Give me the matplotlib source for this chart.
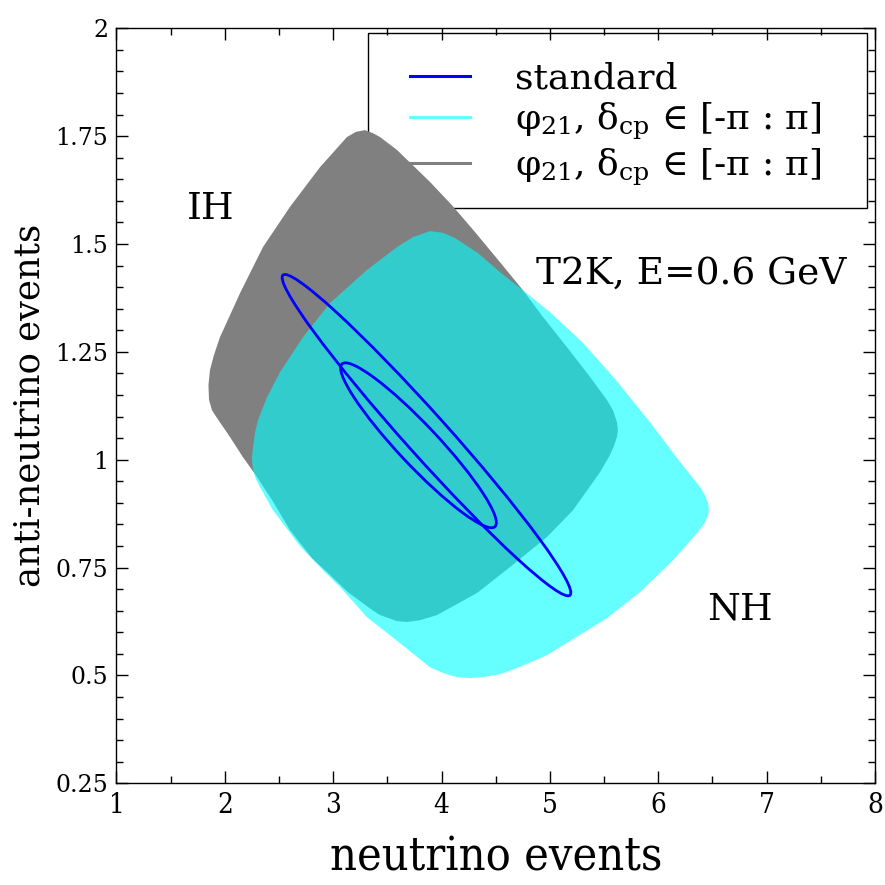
import matplotlib
matplotlib.use("Agg")
import matplotlib.pyplot as plt
import numpy as np
from matplotlib.patches import Ellipse, Rectangle
from matplotlib.lines import Line2D
from matplotlib.transforms import Affine2D
from matplotlib.ticker import MultipleLocator

plt.rcParams['font.family'] = ['DejaVu Serif']
plt.rcParams['mathtext.fontset'] = 'dejavuserif'

##### DATA #####
# IH region (grey), outline
ih_x = [3.293, 3.367, 3.432, 3.589, 3.893, 4.096, 4.308, 4.539, 4.751, 4.936,
        5.157, 5.370, 5.527, 5.582, 5.619, 5.628, 5.619, 5.591, 5.554, 5.462,
        5.213, 4.973, 4.631, 4.327, 3.958, 3.801, 3.681, 3.589, 3.432, 3.358,
        3.136, 2.970, 2.804, 2.601, 2.435, 2.278, 2.167, 2.047, 1.927, 1.881,
        1.854, 1.849, 1.863, 1.900, 1.955, 2.140, 2.352, 2.601, 2.878, 3.127,
        3.210]
ih_y = [1.764, 1.757, 1.748, 1.718, 1.644, 1.590, 1.528, 1.458, 1.393, 1.331,
        1.261, 1.192, 1.138, 1.115, 1.087, 1.069, 1.053, 1.032, 1.011, 0.971,
        0.883, 0.821, 0.751, 0.691, 0.640, 0.628, 0.624, 0.626, 0.640, 0.652,
        0.693, 0.733, 0.772, 0.837, 0.907, 0.967, 1.006, 1.053, 1.097, 1.115,
        1.139, 1.173, 1.208, 1.243, 1.284, 1.386, 1.493, 1.586, 1.678, 1.748,
        1.760]

# NH region (cyan)
nh_x = [3.893, 4.013, 4.124, 4.336, 4.539, 4.770, 5.001, 5.305, 5.619, 5.923,
        6.200, 6.385, 6.431, 6.459, 6.468, 6.459, 6.422, 6.357, 6.136, 5.831,
        5.527, 5.231, 4.973, 4.696, 4.539, 4.382, 4.262, 4.142, 4.013, 3.893,
        3.616, 3.312, 3.063, 2.906, 2.693, 2.444, 2.324, 2.287, 2.260, 2.250,
        2.260, 2.278, 2.306, 2.389, 2.509, 2.721, 2.970, 3.312, 3.589, 3.736]
nh_y = [1.530, 1.526, 1.514, 1.479, 1.435, 1.389, 1.342, 1.271, 1.182, 1.087,
        0.995, 0.937, 0.918, 0.900, 0.886, 0.872, 0.851, 0.830, 0.767, 0.693,
        0.633, 0.587, 0.547, 0.517, 0.503, 0.496, 0.494, 0.496, 0.506, 0.519,
        0.575, 0.635, 0.705, 0.744, 0.800, 0.883, 0.937, 0.955, 0.976, 1.004,
        1.029, 1.062, 1.092, 1.145, 1.203, 1.284, 1.363, 1.440, 1.493, 1.516]

# standard curves: both ends of each ellipse and its minor width (x units)
ell_end_a = [(2.537, 1.428), (3.081, 1.222)]
ell_end_b = [(5.185, 0.686), (4.493, 0.845)]
ell_minor = [0.39, 0.37]

x_ticks = [1, 2, 3, 4, 5, 6, 7, 8]

legend_labels = ['standard',
                 r'φ$_{21}$, δ$_{\rm cp}$ ∈ [-π : π]',
                 r'φ$_{21}$, δ$_{\rm cp}$ ∈ [-π : π]']

##### PLOT #####
fig = plt.figure(figsize=(8.85, 8.85), dpi=100)
ax = fig.add_axes([0.1316, 0.1149, 0.8571, 0.8531])

ax.fill(ih_x, ih_y, color='#808080', lw=0, zorder=2)
ax.fill(nh_x, nh_y, color='cyan', alpha=0.6, lw=0, zorder=2.1)

# y stretched by 4 so the ellipse is drawn in a roughly isotropic frame
squash = Affine2D().scale(1, 0.25) + ax.transData
for (xa, ya), (xb, yb), w in zip(ell_end_a, ell_end_b, ell_minor):
    cx, cy = (xa + xb) / 2, (ya + yb) / 2
    dx, dy = xb - xa, 4 * (yb - ya)
    ax.add_patch(Ellipse((cx, 4 * cy), np.hypot(dx, dy), w,
                         angle=np.degrees(np.arctan2(dy, dx)),
                         transform=squash, fill=False, ec='blue', lw=2, zorder=3))

ax.text(1.867, 1.582, 'IH', fontsize=27, ha='center', va='center')
ax.text(6.306, 1.430, 'T2K, E=0.6 GeV', fontsize=27, ha='center', va='center')
ax.text(6.754, 0.654, 'NH', fontsize=27, ha='center', va='center')

ax.set_xticks(x_ticks)
ax.xaxis.set_minor_locator(MultipleLocator(0.5))
ax.yaxis.set_major_locator(MultipleLocator(0.25))
ax.yaxis.set_minor_locator(MultipleLocator(0.05))
ax.yaxis.set_major_formatter(plt.FuncFormatter(lambda v, p: ('%g' % v)))
ax.set_xlim(1, 8)
ax.set_ylim(0.25, 2)
ax.tick_params(which='both', direction='in', top=True, right=True, width=1)
ax.tick_params(which='major', length=8.5, pad=6)
ax.tick_params(which='minor', length=4.8)
ax.tick_params(axis='y', labelsize=17)
ax.tick_params(axis='x', labelsize=20)
for s in ax.spines.values():
    s.set_linewidth(1)
    s.set_zorder(5)

ax.set_xlabel('neutrino events', fontsize=33.5, fontstretch='condensed', labelpad=12)
ax.set_ylabel('anti-neutrino events', fontsize=25.5, labelpad=6)

# legend box sits under the regions, as in the original
ax.add_patch(Rectangle((0.332, 0.7616), 0.6575, 0.2318, transform=ax.transAxes,
                       fc='white', ec='black', lw=1, zorder=1))
handles = [Line2D([], [], color='blue', lw=2.2),
           Line2D([], [], color='cyan', alpha=0.6, lw=2.2),
           Line2D([], [], color='#808080', lw=2.2)]
leg = ax.legend(handles, legend_labels, loc='center', bbox_to_anchor=(0.6585, 0.872),
                frameon=False, fontsize=26, handlelength=1.64, handletextpad=1.25,
                labelspacing=0.13, borderpad=0)
leg.set_zorder(1.5)

plt.setp(ax.get_xticklabels(), fontstretch='condensed')

fig.savefig('out.png', dpi=100)
